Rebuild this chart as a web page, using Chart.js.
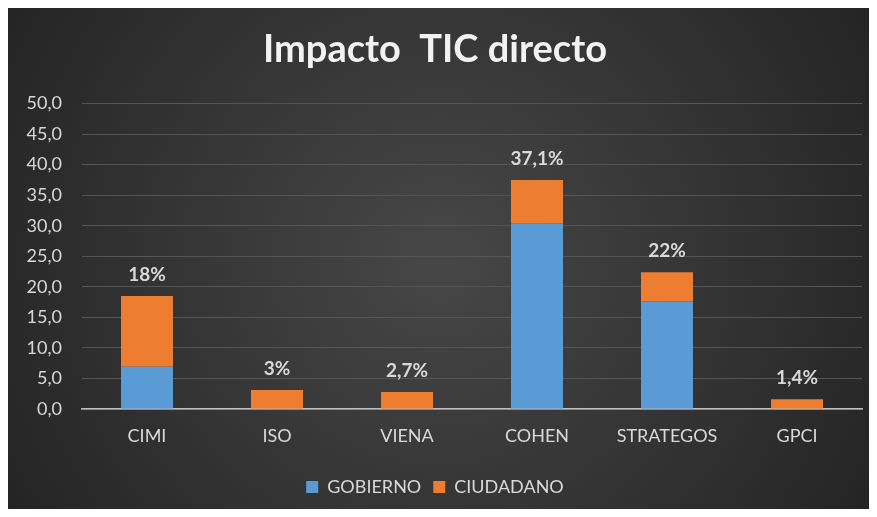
<!DOCTYPE html>
<html>
<head>
<meta charset="utf-8">
<script src="https://cdn.jsdelivr.net/npm/chart.js@4"></script>
<style>
  html, body { margin: 0; padding: 0; background: #fff; }
  #wrap { position: absolute; left: 8px; top: 8px; width: 861px; height: 501px; }
</style>
</head>
<body>
<div id="wrap"><canvas id="chart" width="861" height="501"></canvas></div>
<script>
const CATEGORIES = ['CIMI', 'ISO', 'VIENA', 'COHEN', 'STRATEGOS', 'GPCI'];
const GOBIERNO = [6.9, 0, 0, 30.4, 17.6, 0];
const CIUDADANO = [11.6, 3.1, 2.8, 7.1, 4.8, 1.6];
const TOTAL_LABELS = ['18%', '3%', '2,7%', '37,1%', '22%', '1,4%'];

const TEXT = '#d9d9d9';
const FONT = 'Lato, "Open Sans", sans-serif';

const bgPlugin = {
  id: 'bg',
  beforeDraw(chart) {
    const {ctx, width, height} = chart;
    const g = ctx.createRadialGradient(width / 2, height / 2, 0, width / 2, height / 2, width * 0.6);
    g.addColorStop(0, '#474747');
    g.addColorStop(1, '#232323');
    ctx.save();
    ctx.fillStyle = g;
    ctx.fillRect(0, 0, width, height);
    ctx.restore();
  }
};

const totalsPlugin = {
  id: 'totals',
  afterDatasetsDraw(chart) {
    const {ctx} = chart;
    const meta = chart.getDatasetMeta(1);
    ctx.save();
    ctx.font = 'bold 19px ' + FONT;
    ctx.fillStyle = TEXT;
    ctx.textAlign = 'center';
    ctx.textBaseline = 'middle';
    meta.data.forEach((bar, i) => {
      ctx.fillText(TOTAL_LABELS[i], bar.x, bar.y - 21);
    });
    ctx.restore();
  }
};

new Chart(document.getElementById('chart'), {
  type: 'bar',
  data: {
    labels: CATEGORIES,
    datasets: [{
      label: 'GOBIERNO',
      data: GOBIERNO,
      backgroundColor: '#5b9bd5',
      categoryPercentage: 1,
      barPercentage: 0.4,
    }, {
      label: 'CIUDADANO',
      data: CIUDADANO,
      backgroundColor: '#ed7d31',
      categoryPercentage: 1,
      barPercentage: 0.4,
    }]
  },
  options: {
    responsive: false,
    animation: false,
    layout: { padding: { top: 10, right: 7, bottom: 3, left: 0 } },
    plugins: {
      title: {
        display: true,
        text: 'Impacto  TIC directo',
        color: '#f2f2f2',
        font: { family: FONT, size: 38, weight: 'bold' },
        padding: { top: 9, bottom: 31 },
      },
      legend: {
        position: 'bottom',
        labels: {
          color: TEXT,
          font: { family: FONT, size: 18 },
          boxWidth: 12,
          boxHeight: 12,
          padding: 12,
        }
      },
      tooltip: { enabled: false },
    },
    scales: {
      x: {
        stacked: true,
        grid: { display: false, drawTicks: false },
        border: { color: '#bfbfbf', width: 1.5 },
        ticks: { color: TEXT, font: { family: FONT, size: 18 }, padding: 16 },
        afterFit(s) { s.height = 57; },
      },
      y: {
        stacked: true,
        min: 0,
        max: 50,
        ticks: {
          stepSize: 5,
          color: TEXT,
          font: { family: FONT, size: 18 },
          padding: 20,
          callback: (v) => v.toFixed(1).replace('.', ','),
        },
        grid: { color: '#555555', drawTicks: false },
        border: { display: false },
        afterFit(s) { s.width = 74; },
      }
    }
  },
  plugins: [bgPlugin, totalsPlugin]
});
</script>
</body>
</html>
